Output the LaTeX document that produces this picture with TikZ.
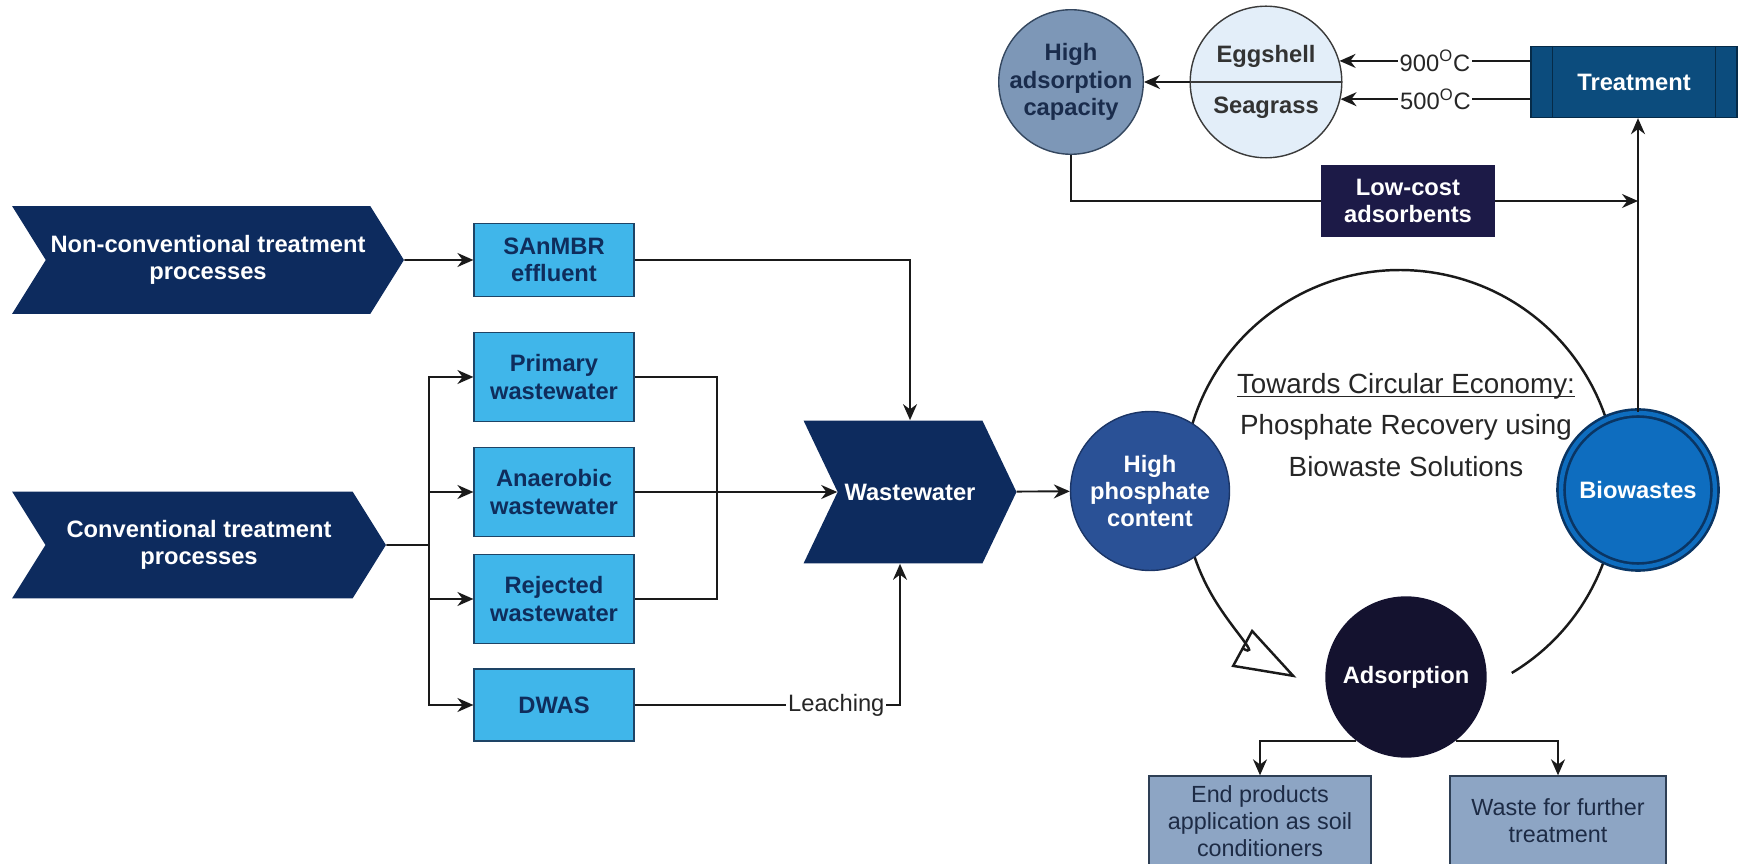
\documentclass[tikz,border=0pt]{standalone}
\usepackage{fontspec}
\setmainfont{Liberation Sans}
\usetikzlibrary{arrows.meta,shapes.symbols,shapes.multipart}
\definecolor{chevnavy}{HTML}{0D2B5E}
\definecolor{skyfill}{HTML}{40B6EA}
\definecolor{skyline}{HTML}{1E4466}
\definecolor{skytext}{HTML}{0F2D5C}
\definecolor{phosblue}{HTML}{2A5196}
\definecolor{phosline}{HTML}{1B3566}
\definecolor{adsnavy}{HTML}{14122F}
\definecolor{bioblue}{HTML}{0E6DBF}
\definecolor{bioline}{HTML}{0A3563}
\definecolor{treatblue}{HTML}{0C4C7D}
\definecolor{treatline}{HTML}{062B48}
\definecolor{lowcostnavy}{HTML}{1C1A47}
\definecolor{capgray}{HTML}{7D97B7}
\definecolor{capline}{HTML}{34475F}
\definecolor{capnavy}{HTML}{1A2C4C}
\definecolor{shellfill}{HTML}{E3EEF9}
\definecolor{shellline}{HTML}{3A3A3A}
\definecolor{endfill}{HTML}{8DA5C4}
\definecolor{endline}{HTML}{2E3F55}
\definecolor{endtext}{HTML}{1D2B45}
\definecolor{wireblack}{HTML}{1A1A1A}

\newcommand{\boxfont}{\fontsize{13.5}{15.5}\selectfont\bfseries}
\newcommand{\plainfont}{\fontsize{13.5}{15.5}\selectfont}
\newcommand{\mottoline}[1]{\setbox0\hbox{#1}\rlap{\rule[-2.2pt]{\wd0}{0.7pt}}\box0}

\begin{document}
\begin{tikzpicture}[x=0.02cm, y=-0.02cm,
    chevron/.style={shape=signal, signal from=west, signal to=east, fill=chevnavy,
                    text=white, align=center, font=\boxfont, inner sep=0pt},
    feed/.style={draw=skyline, line width=0.7pt, fill=skyfill, text=skytext, align=center,
                 font=\boxfont, minimum width=3.2cm, inner sep=2pt},
    blob/.style={circle, line width=0.8pt, align=center, font=\boxfont, inner sep=0pt},
    darkbox/.style={draw=#1, fill=#1, line width=0.8pt, text=white, align=center,
                    font=\boxfont, minimum height=1.42cm},
    outcome/.style={draw=endline, line width=0.8pt, fill=endfill, text=endtext, align=center,
                    font=\fontsize{13.3}{15.5}\selectfont, minimum height=1.8cm},
    wire/.style={draw=wireblack, line width=1.1pt},
    arrow/.style={wire, -{Stealth[length=3.2mm, width=2.8mm]}},
    templabel/.style={fill=white, inner sep=1pt, font=\plainfont, text=black!85}
  ]
  \useasboundingbox (0,0) rectangle (1745,864);

  \coordinate (ringc) at (1400,487);
  \draw[wireblack, line width=1.4pt, -{Triangle[open, length=1.25cm, width=0.85cm]}]
    ([shift={(-59:4.34cm)}]ringc) arc[start angle=-59, end angle=241.5, radius=4.34cm];

  \node[chevron, signal pointer angle=116, minimum width=7.84cm, minimum height=2.16cm] (ncv) at (208,260) {Non-conventional treatment\\processes};
  \node[chevron, signal pointer angle=116, minimum width=7.48cm, minimum height=2.14cm] (cv) at (199,545) {Conventional treatment\\processes};
  \node[chevron, signal pointer angle=129, minimum width=4.26cm, minimum height=2.86cm] (ww) at (910,492) {Wastewater};

  \node[feed, minimum height=1.46cm] (sanmbr)    at (554,260) {SAnMBR\\effluent};
  \node[feed, minimum height=1.78cm] (primary)   at (554,377) {Primary\\wastewater};
  \node[feed, minimum height=1.78cm] (anaerobic) at (554,492) {Anaerobic\\wastewater};
  \node[feed, minimum height=1.78cm] (rejected)  at (554,599) {Rejected\\wastewater};
  \node[feed, minimum height=1.44cm] (dwas)      at (554,705) {DWAS};

  \node[font=\fontsize{15.8}{23.5}\selectfont, text=black!85, align=center] (motto) at (1406,425)
    {\mottoline{Towards Circular Economy:}\\Phosphate Recovery using\\Biowaste Solutions};

  \node[blob, fill=phosblue, draw=phosline, text=white, minimum size=3.18cm] (phos) at (1150,491) {High\\phosphate\\content};
  \node[blob, fill=adsnavy, draw=adsnavy, text=white, minimum size=3.2cm] (ads) at (1406,677) {Adsorption};
  \node[blob, fill=bioblue, draw=bioline, line width=1.5pt, double=bioblue, double distance=2.5pt,
        text=white, minimum size=3.08cm] (bio) at (1638,490) {Biowastes};
  \node[blob, fill=capgray, draw=capline, text=capnavy, minimum size=2.84cm] (hac) at (1071,82) {High\\adsorption\\capacity};
  \node[circle split, fill=shellfill, draw=shellline, line width=0.8pt, text=black!80, font=\boxfont,
        minimum size=2.84cm, inner xsep=2pt, inner ysep=8pt] (shell) at (1266,82) {Eggshell\nodepart{lower}Seagrass};

  \node[darkbox=treatblue, draw=treatline, minimum width=4.12cm] (treat) at (1634,82) {Treatment};
  \draw[treatline, line width=0.8pt] ([xshift=0.44cm]treat.north west) -- ([xshift=0.44cm]treat.south west);
  \draw[treatline, line width=0.8pt] ([xshift=-0.44cm]treat.north east) -- ([xshift=-0.44cm]treat.south east);
  \node[darkbox=lowcostnavy, minimum width=3.46cm] (lowcost) at (1408,201) {Low-cost\\adsorbents};

  \node[outcome, minimum width=4.44cm] (endprod) at (1260,821) {End products\\application as soil\\conditioners};
  \node[outcome, minimum width=4.32cm] (waste)   at (1558,821) {Waste for further\\treatment};

  \draw[arrow] (ncv) -- (sanmbr);
  \coordinate (fork) at (429,545);
  \draw[wire] (cv) -- (fork);
  \foreach \n in {primary, anaerobic, rejected, dwas}
    \draw[arrow] (fork) |- (\n.west);
  \coordinate (merge) at (717,492);
  \draw[wire] (primary.east) -| (merge) |- (rejected.east);
  \draw[arrow] (anaerobic) -- (ww);
  \draw[arrow] (sanmbr) -| (ww);
  \draw[arrow] (dwas) -| node[pos=0.38, templabel] {Leaching} ([xshift=-0.2cm]ww.south);
  \draw[arrow] (ww) -- (phos);

  \draw[arrow] (ads.232) -| (endprod);
  \draw[arrow] (ads.-52) -| (waste);
  \draw[arrow] (bio) -- (bio |- treat.south);
  \draw[wire] (hac) |- (lowcost);
  \draw[arrow] (lowcost) -- (lowcost -| bio);
  \draw[arrow] (treat.west |- shell.16) -- node[templabel] {900\textsuperscript{O}C} (shell.16);
  \draw[arrow] (treat.west |- shell.-13) -- node[templabel] {500\textsuperscript{O}C} (shell.-13);
  \draw[arrow] (shell) -- (hac);
\end{tikzpicture}
\end{document}
